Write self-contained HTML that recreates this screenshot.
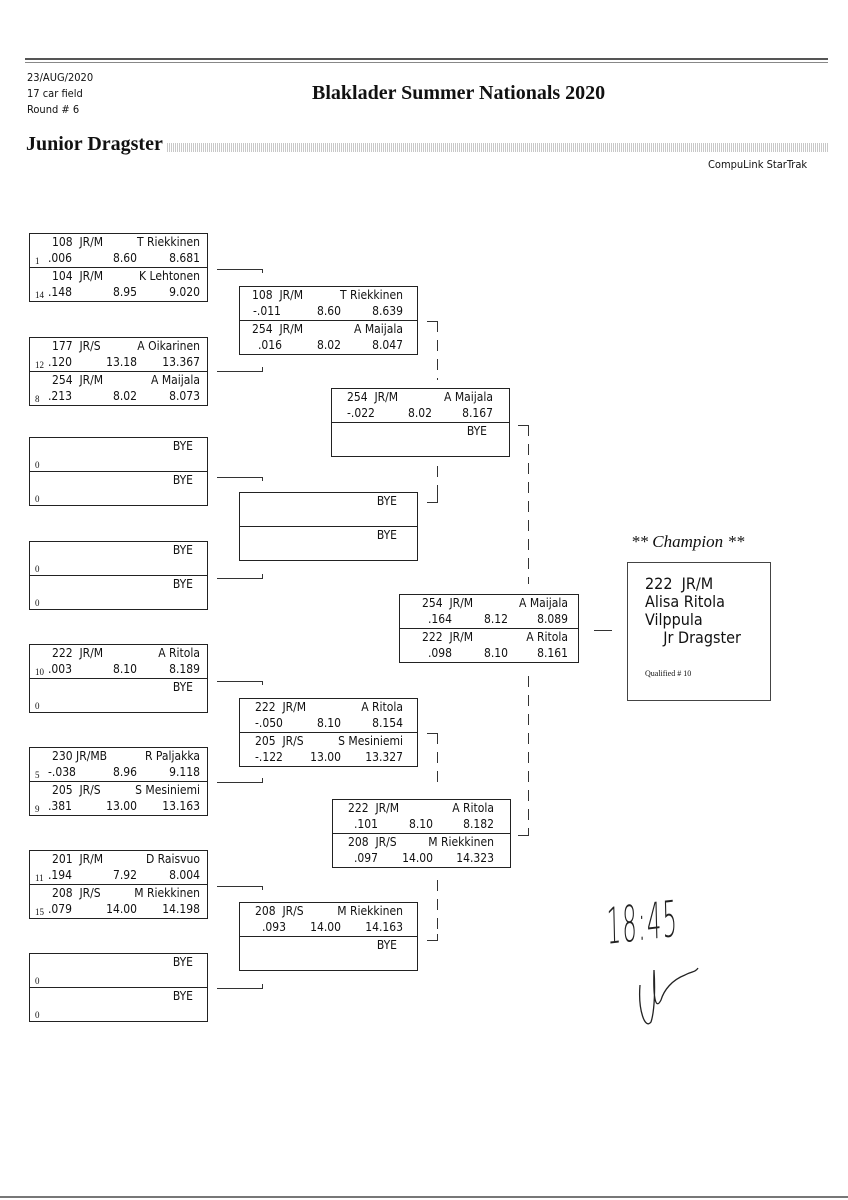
<!DOCTYPE html>
<html><head><meta charset="utf-8">
<style>
body{margin:0;background:#fff;}
#pg{position:relative;width:848px;height:1200px;overflow:hidden;background:#fff;color:#111;font-family:"Liberation Sans Narrow","DejaVu Sans Condensed","Liberation Sans",sans-serif;}
.ab{position:absolute;}
.bx{position:absolute;width:177px;height:67px;border:1px solid #222;box-sizing:content-box;font-size:12px;}
.h{position:relative;height:33px;}
.h+.h{border-top:1px solid #222;}
.h span{position:absolute;white-space:nowrap;line-height:14px;}
.t{top:1px;}
.b{top:17px;}
.sd{font-family:"Liberation Serif",serif;font-size:9px;left:5px;top:20px !important;}
.line{position:absolute;background:#333;}
</style></head><body><div id="pg">

<div class="line" style="left:25px;top:58px;width:803px;height:2px;background:#555"></div>
<div class="line" style="left:25px;top:62px;width:803px;height:1px;background:#888"></div>
<div class="line" style="left:0;top:1196px;width:848px;height:2px;background:#777"></div>

<div class="ab" style="left:27px;top:70px;font-family:'DejaVu Sans Condensed','Liberation Sans Narrow',sans-serif;font-size:11px;line-height:16px;">23/AUG/2020<br>17 car field<br>Round # 6</div>
<div class="ab" style="left:312px;top:82px;font-family:'Liberation Serif',serif;font-weight:bold;font-size:20px;">Blaklader Summer Nationals 2020</div>
<div class="ab" style="left:26px;top:133px;font-family:'Liberation Serif',serif;font-weight:bold;font-size:20px;">Junior Dragster</div>
<div class="ab" style="left:167px;top:143px;width:662px;height:9px;background:repeating-linear-gradient(90deg,#bbb 0 1px,#fff 1px 2px),#ddd;opacity:.8"></div>
<div class="ab" style="left:708px;top:158px;font-family:'DejaVu Sans Condensed',sans-serif;font-size:11px;">CompuLink StarTrak</div>

<!-- Round 1 -->
<div class="bx" style="left:29px;top:233px">
 <div class="h"><span class="t" style="left:22px">108&nbsp;&nbsp;JR/M</span><span class="t" style="right:7px">T Riekkinen</span><span class="sd">1</span><span class="b" style="left:18px">.006</span><span class="b" style="right:70px">8.60</span><span class="b" style="right:7px">8.681</span></div>
 <div class="h"><span class="t" style="left:22px">104&nbsp;&nbsp;JR/M</span><span class="t" style="right:7px">K Lehtonen</span><span class="sd">14</span><span class="b" style="left:18px">.148</span><span class="b" style="right:70px">8.95</span><span class="b" style="right:7px">9.020</span></div>
</div>
<div class="bx" style="left:29px;top:337px">
 <div class="h"><span class="t" style="left:22px">177&nbsp;&nbsp;JR/S</span><span class="t" style="right:7px">A Oikarinen</span><span class="sd">12</span><span class="b" style="left:18px">.120</span><span class="b" style="right:70px">13.18</span><span class="b" style="right:7px">13.367</span></div>
 <div class="h"><span class="t" style="left:22px">254&nbsp;&nbsp;JR/M</span><span class="t" style="right:7px">A Maijala</span><span class="sd">8</span><span class="b" style="left:18px">.213</span><span class="b" style="right:70px">8.02</span><span class="b" style="right:7px">8.073</span></div>
</div>
<div class="bx" style="left:29px;top:437px">
 <div class="h"><span class="t" style="right:14px">BYE</span><span class="sd">0</span></div>
 <div class="h"><span class="t" style="right:14px">BYE</span><span class="sd">0</span></div>
</div>
<div class="bx" style="left:29px;top:541px">
 <div class="h"><span class="t" style="right:14px">BYE</span><span class="sd">0</span></div>
 <div class="h"><span class="t" style="right:14px">BYE</span><span class="sd">0</span></div>
</div>
<div class="bx" style="left:29px;top:644px">
 <div class="h"><span class="t" style="left:22px">222&nbsp;&nbsp;JR/M</span><span class="t" style="right:7px">A Ritola</span><span class="sd">10</span><span class="b" style="left:18px">.003</span><span class="b" style="right:70px">8.10</span><span class="b" style="right:7px">8.189</span></div>
 <div class="h"><span class="t" style="right:14px">BYE</span><span class="sd">0</span></div>
</div>
<div class="bx" style="left:29px;top:747px">
 <div class="h"><span class="t" style="left:22px">230 JR/MB</span><span class="t" style="right:7px">R Paljakka</span><span class="sd">5</span><span class="b" style="left:18px">-.038</span><span class="b" style="right:70px">8.96</span><span class="b" style="right:7px">9.118</span></div>
 <div class="h"><span class="t" style="left:22px">205&nbsp;&nbsp;JR/S</span><span class="t" style="right:7px">S Mesiniemi</span><span class="sd">9</span><span class="b" style="left:18px">.381</span><span class="b" style="right:70px">13.00</span><span class="b" style="right:7px">13.163</span></div>
</div>
<div class="bx" style="left:29px;top:850px">
 <div class="h"><span class="t" style="left:22px">201&nbsp;&nbsp;JR/M</span><span class="t" style="right:7px">D Raisvuo</span><span class="sd">11</span><span class="b" style="left:18px">.194</span><span class="b" style="right:70px">7.92</span><span class="b" style="right:7px">8.004</span></div>
 <div class="h"><span class="t" style="left:22px">208&nbsp;&nbsp;JR/S</span><span class="t" style="right:7px">M Riekkinen</span><span class="sd">15</span><span class="b" style="left:18px">.079</span><span class="b" style="right:70px">14.00</span><span class="b" style="right:7px">14.198</span></div>
</div>
<div class="bx" style="left:29px;top:953px">
 <div class="h"><span class="t" style="right:14px">BYE</span><span class="sd">0</span></div>
 <div class="h"><span class="t" style="right:14px">BYE</span><span class="sd">0</span></div>
</div>

<!-- Round 2 -->
<div class="bx" style="left:239px;top:286px">
 <div class="h"><span class="t" style="left:12px">108&nbsp;&nbsp;JR/M</span><span class="t" style="right:14px">T Riekkinen</span><span class="b" style="left:13px">-.011</span><span class="b" style="right:76px">8.60</span><span class="b" style="right:14px">8.639</span></div>
 <div class="h"><span class="t" style="left:12px">254&nbsp;&nbsp;JR/M</span><span class="t" style="right:14px">A Maijala</span><span class="b" style="left:18px">.016</span><span class="b" style="right:76px">8.02</span><span class="b" style="right:14px">8.047</span></div>
</div>
<div class="bx" style="left:239px;top:492px">
 <div class="h"><span class="t" style="right:20px">BYE</span></div>
 <div class="h"><span class="t" style="right:20px">BYE</span></div>
</div>
<div class="bx" style="left:239px;top:698px">
 <div class="h"><span class="t" style="left:15px">222&nbsp;&nbsp;JR/M</span><span class="t" style="right:14px">A Ritola</span><span class="b" style="left:15px">-.050</span><span class="b" style="right:76px">8.10</span><span class="b" style="right:14px">8.154</span></div>
 <div class="h"><span class="t" style="left:15px">205&nbsp;&nbsp;JR/S</span><span class="t" style="right:14px">S Mesiniemi</span><span class="b" style="left:15px">-.122</span><span class="b" style="right:76px">13.00</span><span class="b" style="right:14px">13.327</span></div>
</div>
<div class="bx" style="left:239px;top:902px">
 <div class="h"><span class="t" style="left:15px">208&nbsp;&nbsp;JR/S</span><span class="t" style="right:14px">M Riekkinen</span><span class="b" style="left:22px">.093</span><span class="b" style="right:76px">14.00</span><span class="b" style="right:14px">14.163</span></div>
 <div class="h"><span class="t" style="right:20px">BYE</span></div>
</div>

<!-- Round 3 -->
<div class="bx" style="left:331px;top:388px">
 <div class="h"><span class="t" style="left:15px">254&nbsp;&nbsp;JR/M</span><span class="t" style="right:16px">A Maijala</span><span class="b" style="left:15px">-.022</span><span class="b" style="right:77px">8.02</span><span class="b" style="right:16px">8.167</span></div>
 <div class="h"><span class="t" style="right:22px">BYE</span></div>
</div>
<div class="bx" style="left:332px;top:799px">
 <div class="h"><span class="t" style="left:15px">222&nbsp;&nbsp;JR/M</span><span class="t" style="right:16px">A Ritola</span><span class="b" style="left:21px">.101</span><span class="b" style="right:77px">8.10</span><span class="b" style="right:16px">8.182</span></div>
 <div class="h"><span class="t" style="left:15px">208&nbsp;&nbsp;JR/S</span><span class="t" style="right:16px">M Riekkinen</span><span class="b" style="left:21px">.097</span><span class="b" style="right:77px">14.00</span><span class="b" style="right:16px">14.323</span></div>
</div>

<!-- Round 4 -->
<div class="bx" style="left:399px;top:594px;width:178px">
 <div class="h"><span class="t" style="left:22px">254&nbsp;&nbsp;JR/M</span><span class="t" style="right:10px">A Maijala</span><span class="b" style="left:28px">.164</span><span class="b" style="right:70px">8.12</span><span class="b" style="right:10px">8.089</span></div>
 <div class="h"><span class="t" style="left:22px">222&nbsp;&nbsp;JR/M</span><span class="t" style="right:10px">A Ritola</span><span class="b" style="left:28px">.098</span><span class="b" style="right:70px">8.10</span><span class="b" style="right:10px">8.161</span></div>
</div>

<!-- connectors -->
<svg class="ab" style="left:0;top:0" width="848" height="1200">
<g stroke="#333" stroke-width="1" fill="none">
 <path d="M217 269.5H262.5V273"/><path d="M217 371.5H262.5V367"/>
 <path d="M217 477.5H262.5V481"/><path d="M217 578.5H262.5V574"/>
 <path d="M217 681.5H262.5V685"/><path d="M217 782.5H262.5V778"/>
 <path d="M217 886.5H262.5V890"/><path d="M217 988.5H262.5V984"/>
 <path d="M427 321.5H437.5"/><path d="M437.5 321V380" stroke-dasharray="11 8"/>
 <path d="M437.5 466V502" stroke-dasharray="11 8"/><path d="M427 502.5H437.5V496"/>
 <path d="M427 733.5H437.5"/><path d="M437.5 733V790" stroke-dasharray="11 8"/>
 <path d="M437.5 880V940" stroke-dasharray="11 8"/><path d="M427 940.5H437.5V934"/>
 <path d="M518 425.5H528.5"/><path d="M528.5 425V584" stroke-dasharray="11 8"/>
 <path d="M528.5 676V835" stroke-dasharray="11 8"/><path d="M518 835.5H528.5V829"/>
 <path d="M594 630.5H612"/>
 <path d="M640 985 C 638 1010, 645 1030, 651 1022 C 655 1010, 655 985, 654 970 C 653 1000, 656 1010, 661 1000 C 664 990, 672 980, 685 975 C 690 972, 696 972, 698 968" stroke="#222" stroke-width="1.3"/>
</g></svg>

<div class="ab" style="left:606px;top:898px;font-family:'DejaVu Sans','Liberation Sans',sans-serif;font-weight:200;font-size:50px;transform:scaleX(.45) rotate(-3deg);transform-origin:left top;letter-spacing:3px;color:#222">18:45</div>

<!-- champion -->
<div class="ab" style="left:631px;top:532px;font-family:'Liberation Serif',serif;font-style:italic;font-size:17px;">** Champion **</div>
<div class="ab" style="left:627px;top:562px;width:142px;height:137px;border:1px solid #444;">
 <div class="ab" style="left:17px;top:12px;font-family:'DejaVu Sans Condensed','Liberation Sans Narrow',sans-serif;font-size:16px;font-weight:normal;line-height:18px;">222&nbsp;&nbsp;JR/M<br>Alisa Ritola<br>Vilppula<br>&nbsp;&nbsp;&nbsp;&nbsp;Jr Dragster</div>
 <div class="ab" style="left:17px;top:106px;font-family:'Liberation Serif',serif;font-size:8px;">Qualified # 10</div>
</div>

</div></body></html>
